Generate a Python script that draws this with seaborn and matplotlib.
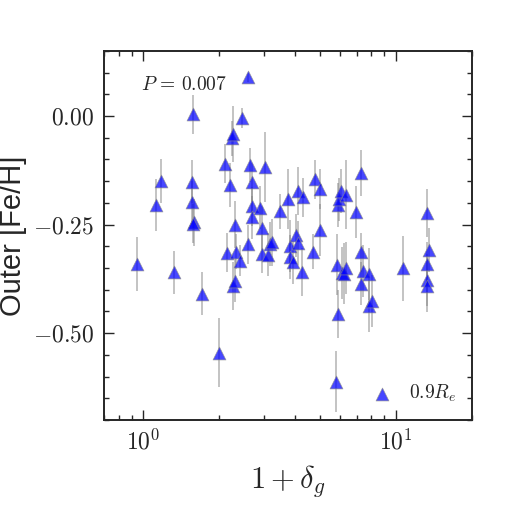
# Outer [Fe/H] vs 1 + delta_g, log x axis, triangles with vertical error bars
import math
import matplotlib
matplotlib.use("Agg")
import matplotlib.pyplot as plt
from matplotlib.ticker import FuncFormatter, MultipleLocator, NullFormatter
import pandas as pd
import seaborn as sns


# --- Data --------------------------------------------------------------------
overdensity = [
    0.942, 1.12, 1.18, 1.33, 1.569, 1.56, 1.56, 1.59, 1.57, 1.71,
    2.00, 2.10, 2.14, 2.20, 2.25, 2.26, 2.26, 2.31, 2.30, 2.34,
    2.41, 2.46, 2.60, 2.59, 2.65, 2.70, 2.70, 2.70, 2.90, 2.95,
    2.95, 3.03, 3.11, 3.17, 3.24, 3.48, 3.75, 3.81, 3.81, 3.90,
    4.01, 4.09, 4.11, 4.27, 4.30, 4.71, 4.80, 5.02, 5.02, 5.77,
    5.86, 5.88, 5.91, 5.95, 6.04, 6.10, 6.24, 6.34, 6.34, 6.93,
    7.27, 7.27, 7.27, 7.42, 7.80, 7.80, 8.01, 10.69, 13.27, 13.55,
    13.27, 13.27, 13.27,
]
outer_feh = [
    -0.341, -0.205, -0.150, -0.360, 0.004, -0.151, -0.199, -0.245, -0.248, -0.409,
    -0.545, -0.110, -0.315, -0.159, -0.051, -0.041, -0.392, -0.379, -0.250, -0.312,
    -0.333, -0.004, 0.089, -0.295, -0.113, -0.153, -0.208, -0.233, -0.211, -0.258,
    -0.317, -0.117, -0.319, -0.295, -0.291, -0.219, -0.191, -0.300, -0.325, -0.337,
    -0.275, -0.173, -0.292, -0.360, -0.187, -0.312, -0.146, -0.169, -0.263, -0.612,
    -0.342, -0.455, -0.205, -0.192, -0.173, -0.361, -0.363, -0.181, -0.350, -0.221,
    -0.131, -0.314, -0.386, -0.356, -0.363, -0.437, -0.425, -0.351, -0.223, -0.308,
    -0.341, -0.377, -0.391,
]
outer_feh_err = [
    0.062, 0.060, 0.050, 0.050, 0.045, 0.050, 0.050, 0.055, 0.045, 0.050,
    0.080, 0.045, 0.045, 0.050, 0.040, 0.065, 0.055, 0.050, 0.055, 0.040,
    0.035, 0.023, 0.010, 0.045, 0.040, 0.045, 0.045, 0.050, 0.050, 0.050,
    0.045, 0.080, 0.050, 0.050, 0.055, 0.040, 0.070, 0.060, 0.050, 0.050,
    0.050, 0.055, 0.050, 0.055, 0.045, 0.040, 0.045, 0.046, 0.060, 0.070,
    0.070, 0.055, 0.050, 0.050, 0.050, 0.060, 0.070, 0.080, 0.060, 0.060,
    0.052, 0.045, 0.050, 0.060, 0.060, 0.060, 0.060, 0.075, 0.055, 0.050,
    0.050, 0.060, 0.060,
]
p_value = 0.007
series_label = r"$0.9R_e$"

df = pd.DataFrame({"x": overdensity, "y": outer_feh, "err": outer_feh_err})


# --- Style -------------------------------------------------------------------
sns.set_style("ticks")
plt.rcParams["font.family"] = ["Liberation Sans", "DejaVu Sans"]
plt.rcParams["mathtext.fontset"] = "cm"
plt.rcParams["axes.linewidth"] = 1.4


# --- Plot --------------------------------------------------------------------
fig = plt.figure(figsize=(5.25, 5.25), dpi=100)
ax = fig.add_axes([0.198, 0.2, 0.701, 0.703])

# Vertical error bars first, triangles on top
ax.errorbar(df["x"], df["y"], yerr=df["err"], fmt="none",
            ecolor="gray", elinewidth=1.2, alpha=0.55, capsize=0, zorder=1)
sns.scatterplot(data=df, x="x", y="y", marker="^", color="blue", s=85,
                alpha=0.72, edgecolor="#8a8a8a", linewidth=0.6,
                label=series_label, ax=ax, zorder=2)

ax.set_xscale("log")
ax.set_xlim(0.7, 20)
ax.set_ylim(-0.70, 0.15)

ax.yaxis.set_major_locator(MultipleLocator(0.25))
ax.yaxis.set_minor_locator(MultipleLocator(0.05))
ax.yaxis.set_major_formatter(FuncFormatter(lambda v, pos: r"$%.2f$" % v))
ax.xaxis.set_major_formatter(
    FuncFormatter(lambda v, pos: r"$10^{%d}$" % round(math.log10(v)))
)
ax.xaxis.set_minor_formatter(NullFormatter())

ax.tick_params(which="both", direction="in", top=True, right=True,
               labelsize=17, width=1.0)
ax.tick_params(which="major", length=7, pad=7)
ax.tick_params(which="minor", length=3.5)

ax.set_xlabel(r"$1+\delta_g$", fontsize=22, labelpad=6)
ax.set_ylabel("Outer [Fe/H]", fontsize=21, labelpad=4)

ax.text(0.1, 0.893, r"$P\,=\,%.3f$" % p_value, transform=ax.transAxes,
        fontsize=14, va="baseline", ha="left")

ax.legend(loc="lower right", frameon=False, fontsize=14, handletextpad=0.4,
          borderaxespad=0.4, markerscale=1.0)

fig.savefig("out.png", dpi=100)
plt.close(fig)
